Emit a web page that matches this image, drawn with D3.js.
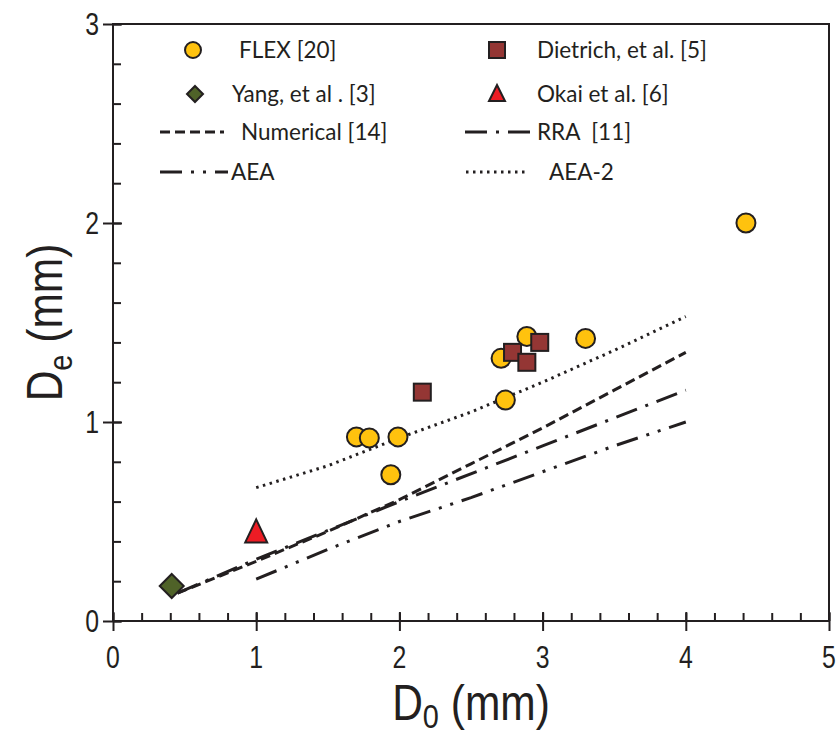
<!DOCTYPE html>
<html>
<head>
<meta charset="utf-8">
<script src="https://cdn.jsdelivr.net/npm/d3@7"></script>
<style>
  body { margin: 0; background: #fff; }
  .tick-label { font-family: "Liberation Sans", Arial, sans-serif; font-size: 31px; fill: #231f20; }
  .legend text { font-family: Lato, "Open Sans", sans-serif; font-size: 22.5px; fill: #231f20; white-space: pre; }
</style>
</head>
<body>
<div id="chart"></div>
<script>
// data
const flexX = [1.70, 1.79, 1.99, 1.94, 2.71, 2.89, 2.74, 3.30, 4.42];
const flexY = [0.925, 0.92, 0.925, 0.735, 1.32, 1.43, 1.11, 1.42, 2.0];
const dietrichX = [2.16, 2.79, 2.89, 2.98];
const dietrichY = [1.15, 1.35, 1.30, 1.40];
const yangX = [0.41];
const yangY = [0.176];
const okaiX = [1.0];
const okaiY = [0.44];

const numericalX = [0.45, 1.0, 1.5, 2.0, 2.5, 3.0, 3.5, 4.0];
const numericalY = [0.14, 0.30, 0.45, 0.61, 0.79, 0.97, 1.16, 1.35];
const rraX = [0.45, 1.0, 2.0, 3.0, 4.0];
const rraY = [0.14, 0.31, 0.60, 0.88, 1.16];
const aeaX = [1.0, 1.5, 2.0, 2.5, 3.0, 3.5, 4.0];
const aeaY = [0.21, 0.36, 0.50, 0.62, 0.75, 0.88, 1.0];
const aea2X = [1.0, 1.5, 2.0, 2.5, 3.0, 3.5, 4.0];
const aea2Y = [0.67, 0.78, 0.92, 1.05, 1.20, 1.36, 1.53];

const xTicks = [0, 1, 2, 3, 4, 5];
const yTicks = [0, 1, 2, 3];

const width = 838, height = 737;
const ink = "#231f20";
const narrow = 0.8; // squeeze to mimic a narrow face

const svg = d3.select("#chart")
    .append("svg")
    .attr("width", width)
    .attr("height", height);

const x = d3.scaleLinear().domain([0, 5]).range([113, 829]);
const y = d3.scaleLinear().domain([0, 3]).range([621, 24]);

const zip = (a, b) => a.map((v, i) => [v, b[i]]);

// frame
svg.append("rect")
    .attr("x", x(0)).attr("y", y(3))
    .attr("width", x(5) - x(0)).attr("height", y(0) - y(3))
    .attr("fill", "none").attr("stroke", ink).attr("stroke-width", 2);

// minor ticks (inside)
const minorX = d3.range(0, 5.001, 0.2);
const minorY = d3.range(0, 3.001, 0.2);
svg.append("g")
    .attr("transform", `translate(0, ${y(0)})`)
    .call(d3.axisBottom(x).tickValues(minorX).tickSize(-8).tickSizeOuter(0).tickFormat(""))
    .call(g => g.select(".domain").remove());
svg.append("g")
    .attr("transform", `translate(${x(0)}, 0)`)
    .call(d3.axisLeft(y).tickValues(minorY).tickSize(-8).tickSizeOuter(0).tickFormat(""))
    .call(g => g.select(".domain").remove());

// major ticks crossing the axis
svg.append("g")
    .attr("transform", `translate(0, ${y(0) - 9})`)
    .call(d3.axisBottom(x).tickValues(xTicks).tickSize(19).tickSizeOuter(0).tickFormat(""))
    .call(g => g.select(".domain").remove());
svg.append("g")
    .attr("transform", `translate(${x(0) + 9}, 0)`)
    .call(d3.axisLeft(y).tickValues(yTicks).tickSize(19).tickSizeOuter(0).tickFormat(""))
    .call(g => g.select(".domain").remove());

svg.selectAll(".tick line").attr("stroke", ink).attr("stroke-width", 2);

// tick labels
svg.append("g").selectAll("text")
    .data(xTicks)
    .join("text")
    .attr("class", "tick-label")
    .attr("transform", d => `translate(${x(d)}, 668) scale(${narrow}, 1)`)
    .attr("text-anchor", "middle")
    .text(d => d);
svg.append("g").selectAll("text")
    .data(yTicks)
    .join("text")
    .attr("class", "tick-label")
    .attr("transform", d => `translate(99, ${y(d) + 11}) scale(${narrow}, 1)`)
    .attr("text-anchor", "end")
    .text(d => d);

// axis titles
const xt = svg.append("text")
    .attr("transform", `translate(${x(2.5)}, 720) scale(0.85, 1)`)
    .attr("text-anchor", "middle")
    .style("font-family", "'Liberation Sans', Arial, sans-serif")
    .style("font-size", "50px").attr("fill", ink);
xt.append("tspan").text("D");
xt.append("tspan").attr("dy", 8).style("font-size", "34px").text("0");
xt.append("tspan").attr("dy", -8).text(" (mm)");

const yt = svg.append("text")
    .attr("transform", `translate(62, ${y(1.5)}) rotate(-90) scale(0.85, 1)`)
    .attr("text-anchor", "middle")
    .style("font-family", "'Liberation Sans', Arial, sans-serif")
    .style("font-size", "50px").attr("fill", ink);
yt.append("tspan").text("D");
yt.append("tspan").attr("dy", 10).style("font-size", "34px").text("e");
yt.append("tspan").attr("dy", -10).text(" (mm)");

// lines
const lineGen = d3.line().x(d => x(d[0])).y(d => y(d[1]));
const lineSeries = [
    { name: "Numerical [14]", pts: zip(numericalX, numericalY), dash: "10,5", w: 3 },
    { name: "RRA  [11]", pts: zip(rraX, rraY), dash: "22,9,3,9", w: 3 },
    { name: "AEA", pts: zip(aeaX, aeaY), dash: "22,9,3,9,3,9", w: 3 },
    { name: "AEA-2", pts: zip(aea2X, aea2Y), dash: "2.5,4.5", w: 3 }
];
svg.append("g").selectAll("path")
    .data(lineSeries)
    .join("path")
    .attr("d", d => lineGen(d.pts))
    .attr("fill", "none")
    .attr("stroke", ink)
    .attr("stroke-width", d => d.w)
    .attr("stroke-dasharray", d => d.dash);

// markers
const marks = svg.append("g");
marks.selectAll(".flex")
    .data(zip(flexX, flexY))
    .join("circle")
    .attr("cx", d => x(d[0])).attr("cy", d => y(d[1]))
    .attr("r", 9.5)
    .attr("fill", "#ffc20e").attr("stroke", ink).attr("stroke-width", 2);
marks.selectAll(".dietrich")
    .data(zip(dietrichX, dietrichY))
    .join("rect")
    .attr("x", d => x(d[0]) - 8.5).attr("y", d => y(d[1]) - 8.5)
    .attr("width", 17).attr("height", 17)
    .attr("fill", "#943634").attr("stroke", ink).attr("stroke-width", 2);
marks.selectAll(".yang")
    .data(zip(yangX, yangY))
    .join("path")
    .attr("transform", d => `translate(${x(d[0])}, ${y(d[1])})`)
    .attr("d", "M0,-12L12,0L0,12L-12,0Z")
    .attr("fill", "#4f6228").attr("stroke", ink).attr("stroke-width", 2);
marks.selectAll(".okai")
    .data(zip(okaiX, okaiY))
    .join("path")
    .attr("transform", d => `translate(${x(d[0])}, ${y(d[1])})`)
    .attr("d", "M0,-14L11,9L-11,9Z")
    .attr("fill", "#ed1c24").attr("stroke", ink).attr("stroke-width", 2);

// legend
const legend = svg.append("g").attr("class", "legend");
const symRows = [
    { label: "FLEX [20]", sx: 193, tx: 239, ty: 50, shape: "circle", fill: "#ffc20e" },
    { label: "Dietrich, et al. [5]", sx: 497, tx: 537, ty: 50, shape: "square", fill: "#943634" },
    { label: "Yang, et al . [3]", sx: 195, tx: 232, ty: 94, shape: "diamond", fill: "#4f6228" },
    { label: "Okai et al. [6]", sx: 497, tx: 537, ty: 94, shape: "triangle", fill: "#ed1c24" }
];
const shapes = {
    circle: "M-8,0A8,8 0 1,0 8,0A8,8 0 1,0 -8,0Z",
    square: "M-8,-8H8V8H-8Z",
    diamond: "M0,-8L8,0L0,8L-8,0Z",
    triangle: "M0,-9L8,7L-8,7Z"
};
symRows.forEach(r => {
    legend.append("path")
        .attr("transform", `translate(${r.sx}, ${r.ty})`)
        .attr("d", shapes[r.shape])
        .attr("fill", r.fill).attr("stroke", ink).attr("stroke-width", 2);
    legend.append("text")
        .attr("x", r.tx).attr("y", r.ty + 8)
        .text(r.label);
});
const lineRows = [
    { s: lineSeries[0], x1: 160, x2: 224, tx: 241, ty: 132 },
    { s: lineSeries[1], x1: 465, x2: 530, tx: 537, ty: 132 },
    { s: lineSeries[2], x1: 160, x2: 228, tx: 231, ty: 172 },
    { s: lineSeries[3], x1: 466, x2: 528, tx: 549, ty: 172 }
];
lineRows.forEach(r => {
    legend.append("line")
        .attr("x1", r.x1).attr("x2", r.x2)
        .attr("y1", r.ty).attr("y2", r.ty)
        .attr("stroke", ink)
        .attr("stroke-width", r.s.w)
        .attr("stroke-dasharray", r.s.dash);
    legend.append("text")
        .attr("x", r.tx).attr("y", r.ty + 8)
        .text(r.s.name);
});
</script>
</body>
</html>
